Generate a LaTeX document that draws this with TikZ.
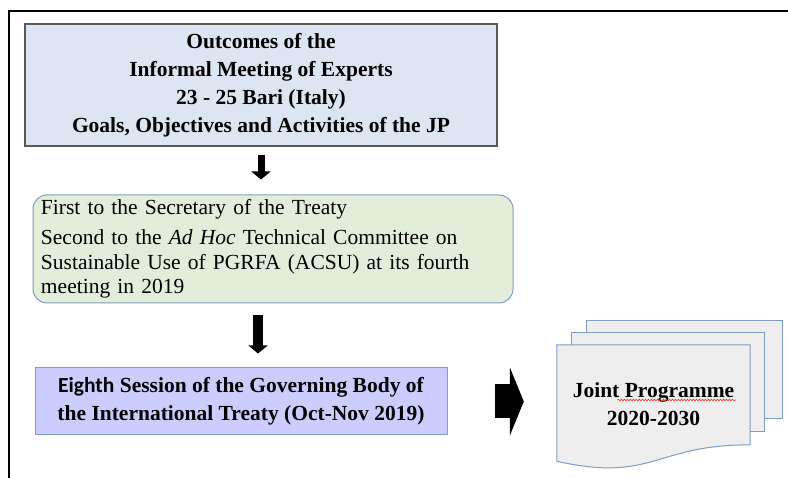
\documentclass[tikz,border=0pt]{standalone}
\usepackage{fontspec}
\setmainfont{Liberation Serif}
\newfontfamily\headfont{Carlito}
\usetikzlibrary{arrows.meta,calc,decorations.pathmorphing}
\definecolor{outcomefill}{HTML}{DCE6F2}
\definecolor{outcomeline}{HTML}{595959}
\definecolor{referfill}{HTML}{E3EEDA}
\definecolor{sessionfill}{HTML}{CCCCFF}
\definecolor{boxline}{HTML}{7F9DC0}
\definecolor{pagefill}{HTML}{EEEEEE}
\begin{document}
\begin{tikzpicture}[x=1pt,y=-1pt,
outcome/.style ={rectangle, draw=outcomeline, fill=outcomefill, line width=1.2pt,
  minimum width=472pt, minimum height=122pt, inner sep=0pt, align=center,
  font=\bfseries\fontsize{21.5}{28}\selectfont
},
refer/.style ={rectangle, draw=boxline, fill=referfill, line width=1pt,
  rounded corners=14pt, minimum width=480pt, minimum height=108pt,
  inner sep=0pt, text width=464pt, align=left,
  font=\fontsize{21.5}{24.5}\selectfont
},
session/.style ={rectangle, draw=boxline, fill=sessionfill, line width=1pt,
  minimum width=412pt, minimum height=67pt, inner sep=0pt, align=center,
  font=\bfseries\fontsize{21.5}{28}\selectfont
},
page/.style ={draw=boxline, fill=pagefill, line width=1pt},
downarrow/.style ={draw=black, line width=#1,
  -{Triangle[width=19pt,length=8pt]}
},
fatarrow/.style ={draw=black, line width=34pt,
  -{Triangle[width=68pt,length=14pt]}
}]
\useasboundingbox (0,0) rectangle (788,478);
% frame
\draw[line width=2.5pt] (9,478) -- (9,11) -- (788,11);
% boxes
\node (outcome) at (261,85) [outcome]
  {Outcomes of the\\ Informal Meeting of Experts\\ 23 - 25 Bari (Italy)\\
   Goals, Objectives and Activities of the JP};
\node (refer) at (273,249) [refer]
  {First to the Secretary of the Treaty\\[5.5pt]
   Second to the \textit{Ad Hoc} Technical Committee on\\
   Sustainable Use of PGRFA (ACSU) at its fourth\\
   meeting in 2019};
\node (session) at (241,401.5) [session]
  {{\headfont Eighth} Session of the Governing Body of\\
   the International Treaty (Oct-Nov 2019)};
% joint programme pages
\path (653.5,407.5) node (jp) [minimum width=193pt, minimum height=125pt, inner sep=0pt] {};
\draw[page] ($(jp.north west)+(30,-24)$) rectangle ($(jp.north east)+(32,74)$);
\draw[page] ($(jp.north west)+(15,-12)$) rectangle ($(jp.north east)+(14,87)$);
\draw[page] (jp.north west) -- (jp.north east) -- ($(jp.north east)+(0,100)$)
  .. controls ($(jp.north)+(0,100)$) and ($(jp.north)+(0,138)$)
  .. ($(jp.north west)+(0,116.5)$) -- cycle;
\node (jptext) at ($(jp.center)+(0,-3.5)$)
  [align=center, font=\bfseries\fontsize{21.5}{28}\selectfont]
  {Joint Programme\\ 2020-2030};
\draw[red!85, line width=0.6pt, decorate,
  decoration={snake, amplitude=0.8pt, segment length=3pt}]
  ($(jptext.center)+(-36,-4)$) -- ($(jptext.center)+(82,-4)$);
% arrows
\draw[downarrow=7pt, shorten <=8pt, shorten >=15pt]
  (outcome.south) -- (outcome.south |- refer.north);
\coordinate (a2) at ($(refer.south)+(-15,0)$);
\draw[downarrow=10pt, shorten <=12pt, shorten >=14pt]
  (a2) -- (a2 |- session.north);
\draw[fatarrow, shorten <=47pt, shorten >=33pt]
  (session.east) -- (session.east -| jp.west);
\end{tikzpicture}
\end{document}
